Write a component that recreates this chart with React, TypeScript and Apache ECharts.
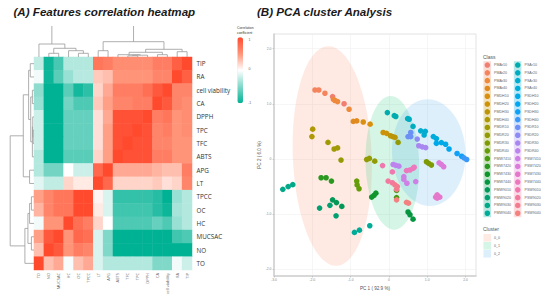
import React, { useEffect, useRef } from "react";
import * as echarts from "echarts";

const columns = ["TO","NO","MUCSAC","HC","OC","TPCC","LT","APG","ABTS","TFC","TPC","DPPH","CA","cell viability","RA","TIP"];
const rows = ["TIP","RA","cell viability","CA","DPPH","TPC","TFC","ABTS","APG","LT","TPCC","OC","HC","MUCSAC","NO","TO"];
const matrix = [
  [-.25,-.95,-.72,-.3,-.3,-.3,.7,.65,.55,.55,.55,.55,.65,.65,.85,1],
  [-.05,-.95,-.65,-.4,-.28,-.28,.25,.3,.5,.5,.5,.5,.6,.6,1,.85],
  [-.45,-1,-1,-.65,-.92,-.82,.2,.4,.65,.65,.65,.75,.9,1,.6,.6],
  [-.4,-1,-1,-.55,-.7,-.7,.25,.45,.6,.6,.65,.65,1,.9,.6,.55],
  [-.2,-1,-1,-.6,-.6,-.6,.15,.4,.95,.95,.95,1,.65,.7,.5,.55],
  [-.2,-1,-1,-.6,-.6,-.6,.15,.45,.95,.95,1,.95,.6,.65,.5,.55],
  [-.2,-1,-1,-.6,-.6,-.6,.15,.45,.95,1,.95,.95,.6,.6,.5,.5],
  [-.3,-1,-1,-.65,-.65,-.65,.2,.45,1,.95,.95,.95,.65,.65,.5,.5],
  [-.3,-.55,-.55,0,-.2,-.2,.8,1,.4,.4,.4,.4,.35,.3,.3,.65],
  [-.12,-.25,-.25,.2,.1,.1,1,.8,.2,.2,.2,.2,.25,.15,.2,.6],
  [.45,.6,.7,.7,1,1,.05,-.15,-.8,-.8,-.8,-.8,-.85,-1,-.4,-.3],
  [.35,.6,.7,.7,1,1,.1,-.15,-.75,-.75,-.75,-.75,-.85,-.95,-.35,-.3],
  [-.05,.5,.5,1,.75,.65,.2,0,-.7,-.7,-.7,-.7,-.6,-.7,-.4,-.3],
  [.45,.9,1,.5,.8,.75,-.15,-.5,-1,-1,-1,-1,-1,-1,-.75,-.7],
  [.3,1,.9,.5,.65,.6,-.15,-.5,-1,-1,-1,-1,-1,-1,-1,-1],
  [1,.3,.4,-.03,.3,.4,-.15,-.3,-.3,-.3,-.3,-.3,-.5,-.5,-.05,-.2],
];

// [position a, height a, position b, height b, merge height]
const treeMerges = [
  [1.5,0,2.5,0,3.7],[4.5,0,5.5,0,3.7],[3.5,0,5,3.7,6.3],[2,3.7,4.25,6.3,8.7],[.5,0,3.125,8.7,13],
  [6.5,0,7.5,0,6.3],[9.5,0,10.5,0,1.2],[10,1.2,11.5,0,1.8],[8.5,0,10.75,1.8,2.3],[12.5,0,13.5,0,2.3],
  [9.63,2.3,13,2.3,4.7],[14.5,0,15.5,0,5.3],[11.31,4.7,15,5.3,7.7],[7,6.3,13.16,7.7,15.3],[1.81,13,10.08,15.3,34],
];

const classesLeft = ["PMAr10","PMAr20","PMAr30","PMAr40","PMDH10","PMDH20","PMDH30","PMDH40","PMDR10","PMDR20","PMDR30","PMDR40","PMW7410","PMW7420","PMW7430","PMW7440","PMW9010","PMW9020","PMW9030","PMW9040"];
const classesRight = ["PSAr10","PSAr20","PSAr30","PSAr40","PSDH10","PSDH20","PSDH30","PSDH40","PSDR10","PSDR20","PSDR30","PSDR40","PSW7410","PSW7420","PSW7430","PSW7440","PSW9010","PSW9020","PSW9030","PSW9040"];
const classColors = [
  "#F07F72","#F4845E","#EE8A3C","#E08A1E","#D9900F","#CC9208","#BB9408","#AE9806","#A09A05","#929B05",
  "#7E9A05","#659C08","#4A9A12","#2A981E","#0E962C","#059640","#039858","#02A070","#02A888","#00AC98",
  "#00ACAE","#00ACC0","#00ACD0","#00ACDC","#00AAE8","#00A6F0","#10A0F5","#3A98F8","#6C90F5","#8E8CF4",
  "#A888F0","#BC84EC","#CE80E4","#DC7CDA","#E678CC","#EC78BE","#F078AE","#F27A9E","#F47C90","#F48080",
];
const classPoints = [
  [[-1.47,1.13],[-1.17,1.0]],
  [[-1.93,1.25],[-1.83,1.25],[-1.67,1.19]],
  [[-1.45,1.08],[-1.41,1.06],[-1.34,1.04],[-1.04,.9]],
  [[-.93,.68],[-.84,.69]],
  [[-.67,.67],[-.49,.63]],
  [[-.15,.48],[-.06,.465]],
  [[.04,.42],[.1,.405],[.16,.39]],
  [[-1.99,.54],[-2.01,.405]],
  [[-1.59,.3],[-1.43,.18],[-1.34,.2]],
  [[-1.25,-.02],[-.58,-.01],[-.51,.01],[-.37,-.04],[.24,.3]],
  [[.98,-.05],[1.04,-.08],[1.11,-.11]],
  [[-.84,-.4],[-.83,-.47],[-.78,-.54]],
  [[.2,-.57],[.2,-.7]],
  [[-1.77,-.34],[-1.64,-.34],[-1.5,-.4]],
  [[-.45,-.69],[-.39,-.66],[-.34,-.62]],
  [[.5,-.96],[.55,-1.01],[.63,-1.09]],
  [[-1.47,-.74],[-1.37,-.79],[-1.23,-.86]],
  [[-1.54,-.84],[-1.81,-.89],[-1.38,-1.03]],
  [[-2.77,-.55],[-2.63,-.5],[-2.51,-.465]],
  [[-.9,-1.33],[-.77,-1.29],[-.5,-1.21]],
  [[-.04,.84],[.14,.785],[.18,.77]],
  [[.49,.73],[.53,.72],[.63,.59]],
  [[.83,.51],[.95,.5],[.92,.435]],
  [[1.16,.405],[1.24,.37]],
  [[1.24,.284],[1.37,.296],[1.48,.266]],
  [[1.57,.18]],
  [[1.78,.1],[1.9,.05]],
  [[1.96,.02],[2.03,-.01]],
  [[.57,.48],[.5,.405],[.57,.405]],
  [[.74,.36]],
  [[.78,.24],[.87,.22],[.96,.205]],
  [[.11,-.1],[.18,-.115],[.26,-.13]],
  [[.39,-.32],[.39,-.37],[.47,-.44],[.7,-.41]],
  [[1.31,-.07],[1.37,-.1],[1.43,-.14]],
  [[1.26,-.65],[1.22,-.69],[1.33,-.69],[1.26,-.71]],
  [[.46,-.21],[.55,-.2],[.63,-.17],[.66,-.15]],
  [[-.165,-.12],[.09,-.235]],
  [[-.02,-.4],[.09,-.43]],
  [[.16,-.47],[.22,-.5],[.2,-.55]],
  [[.2,-.74],[.46,-.785],[.51,-.8]],
];
const clusterNames = ["0_0","0_1","0_2"];
// [centre x, centre y, axis-1 x, axis-1 y, axis-2 x, axis-2 y]
const clusterEllipses = [
  [-1.48,.054,-.1,1.99,1.03,0],
  [.09,-.07,-.045,1.21,.7,0],
  [1.04,.114,-.03,.967,.96,0],
];
const clusterColors = ["rgba(250,130,90,0.17)","rgba(30,200,120,0.19)","rgba(60,160,235,0.17)"];
const xTicks = [-3,-2,-1,0,1,2];
const yTicks = [-2,-1,0,1,2];
const tickText = (v: number) => (v === 0 ? "0" : v.toFixed(1));

const treeRender = (vertical: boolean) => (_p: any, api: any) => {
  const [a, ha, b, hb, h] = [0,1,2,3,4].map((i) => api.value(i));
  const raw = [[a,ha],[a,h],[b,h],[b,hb]];
  const points = raw.map(([pos, height]) => api.coord(vertical ? [pos, height] : [height, pos]));
  return { type: "polyline", shape: { points }, style: { stroke: "#9a9a9a", lineWidth: 0.8, fill: "none" } };
};

const ellipseRender = (p: any, api: any) => {
  const [cx, cy, ux, uy, vx, vy] = [0,1,2,3,4,5].map((i) => api.value(i));
  const points: number[][] = [];
  for (let k = 0; k < 72; k++) {
    const t = (k / 72) * Math.PI * 2;
    points.push(api.coord([cx + ux * Math.cos(t) + vx * Math.sin(t), cy + uy * Math.cos(t) + vy * Math.sin(t)]));
  }
  return { type: "polygon", shape: { points }, style: { fill: clusterColors[p.dataIndex] } };
};

export default function App() {
  const ref = useRef<HTMLDivElement>(null);
  useEffect(() => {
    const chart = echarts.init(ref.current!, undefined, { renderer: "svg" });
    const cells: number[][] = [];
    matrix.forEach((r, y) => r.forEach((v, x) => cells.push([x, y, v])));
    const allClasses = [...classesLeft, ...classesRight];
    const smallGrey = { fontFamily: "Liberation Sans", fill: "#666", fontSize: 3.6 };
    const legendBack: any[] = [];
    classColors.forEach((c, i) => {
      const col = i < 20 ? 0 : 1;
      const row = i % 20;
      legendBack.push({
        type: "rect", z: 0,
        shape: { x: col ? 513.8 : 483.4, y: 61.2 + row * 7.8, width: 7.6, height: 7.8 },
        style: { fill: c, opacity: 0.28 },
      });
    });
    const clusterLegend: any[] = [];
    clusterNames.forEach((n, i) => {
      clusterLegend.push({
        type: "rect", shape: { x: 483.4, y: 234 + i * 8, width: 7.6, height: 7.6 },
        style: { fill: clusterColors[i] },
      });
      clusterLegend.push({ type: "text", x: 494, y: 235.6 + i * 8, style: { ...smallGrey, text: n } });
    });
    const titleStyle = { fontFamily: "Liberation Sans", fontStyle: "italic", fontWeight: "bold", fontSize: 11.6, color: "#1a1a1a" };
    chart.setOption({
      animation: false,
      backgroundColor: "#fff",
      title: [
        { text: "(A) Features correlation heatmap", left: 13.5, top: 5, padding: 0, textStyle: titleStyle },
        { text: "(B) PCA cluster Analysis", left: 257, top: 5, padding: 0, textStyle: titleStyle },
      ],
      grid: [
        { left: 34, top: 57, width: 158, height: 213 },
        { left: 34, top: 26, width: 158, height: 31 },
        { left: 8, top: 57, width: 26, height: 213 },
        { left: 274, top: 34, width: 202, height: 242, show: true, borderColor: "#e2e2e2", borderWidth: 1, backgroundColor: "#fff" },
      ],
      xAxis: [
        { type: "category", gridIndex: 0, data: columns, position: "bottom", axisLine: { show: false }, axisTick: { show: false }, axisLabel: { rotate: 90, interval: 0, margin: 3, fontSize: 4, color: "#666", fontFamily: "Open Sans" } },
        { type: "value", gridIndex: 1, min: 0, max: 16, show: false },
        { type: "value", gridIndex: 2, min: 0, max: 37.14, inverse: true, show: false },
        {
          type: "value", gridIndex: 3, min: -3, max: 2.274, name: "PC 1 ( 92.9 %)", nameLocation: "middle", nameGap: 8.5,
          nameTextStyle: { fontSize: 4.6, color: "#555", fontFamily: "Liberation Sans" },
          axisLine: { show: true, onZero: false, lineStyle: { color: "#cfcfcf", width: 1.5 } },
          axisTick: { show: true, length: 1.5, lineStyle: { color: "#aaa", width: 0.5 }, customValues: xTicks },
          axisLabel: { fontSize: 3.4, color: "#888", margin: 2.5, formatter: tickText, customValues: xTicks, fontFamily: "Liberation Sans" },
          splitLine: { show: true, lineStyle: { color: "#f0f0f0", width: 0.6 } },
        },
      ],
      yAxis: [
        { type: "category", gridIndex: 0, data: rows, inverse: true, position: "right", axisLine: { show: false }, axisTick: { show: false }, axisLabel: { interval: 0, margin: 4.5, fontSize: 6.3, color: "#333", fontFamily: "Open Sans" } },
        { type: "value", gridIndex: 1, min: 0, max: 31, show: false },
        { type: "value", gridIndex: 2, min: 0, max: 16, show: false },
        {
          type: "value", gridIndex: 3, min: -2.12, max: 2.264, name: "PC 2 ( 6.0 %)", nameLocation: "middle", nameGap: 11,
          nameTextStyle: { fontSize: 4.6, color: "#555", fontFamily: "Liberation Sans" },
          axisLine: { show: true, onZero: false, lineStyle: { color: "#cfcfcf", width: 1.5 } },
          axisTick: { show: true, length: 1.5, lineStyle: { color: "#aaa", width: 0.5 }, customValues: yTicks },
          axisLabel: { fontSize: 3.4, color: "#888", margin: 2.5, formatter: tickText, customValues: yTicks, fontFamily: "Liberation Sans" },
          splitLine: { show: true, lineStyle: { color: "#f0f0f0", width: 0.6 } },
        },
      ],
      visualMap: {
        type: "continuous", seriesIndex: 0, min: -1, max: 1, left: 237.4, top: 37.3, itemWidth: 5.6, itemHeight: 66,
        calculable: false, padding: 0, text: ["", ""], textGap: 0, hoverLink: false,
        inRange: { color: ["#00B294", "#80D8C9", "#ffffff", "#FF9479", "#FF4A2E"] },
      },
      legend: [
        { data: classesLeft, orient: "vertical", left: 484.6, top: 62.3, padding: 0, itemWidth: 5.5, itemHeight: 5.5, itemGap: 2.3, icon: "circle", selectedMode: false, textStyle: { fontSize: 3.6, color: "#666", fontFamily: "Liberation Sans", padding: [0, 0, 0, -1] } },
        { data: classesRight, orient: "vertical", left: 515, top: 62.3, padding: 0, itemWidth: 5.5, itemHeight: 5.5, itemGap: 2.3, icon: "circle", selectedMode: false, textStyle: { fontSize: 3.6, color: "#666", fontFamily: "Liberation Sans", padding: [0, 0, 0, -1] } },
      ],
      series: [
        { type: "heatmap", xAxisIndex: 0, yAxisIndex: 0, data: cells, itemStyle: { borderWidth: 0 }, emphasis: { disabled: true } },
        { type: "custom", xAxisIndex: 1, yAxisIndex: 1, data: treeMerges, renderItem: treeRender(true), clip: true, silent: true },
        { type: "custom", xAxisIndex: 2, yAxisIndex: 2, data: treeMerges, renderItem: treeRender(false), clip: true, silent: true },
        { type: "custom", xAxisIndex: 3, yAxisIndex: 3, data: clusterEllipses, renderItem: ellipseRender, silent: true, z: 1 },
        ...allClasses.map((name, i) => ({
          type: "scatter", name, xAxisIndex: 3, yAxisIndex: 3, data: classPoints[i], symbolSize: 5.6, z: 3,
          itemStyle: { color: classColors[i], opacity: 1 },
        })),
      ],
      graphic: [
        ...legendBack,
        ...clusterLegend,
        { type: "text", x: 483, y: 54.5, style: { fontFamily: "Liberation Sans", fill: "#555", fontSize: 5, text: "Class" } },
        { type: "text", x: 483, y: 226.5, style: { fontFamily: "Liberation Sans", fill: "#555", fontSize: 5, text: "Cluster" } },
        { type: "text", x: 237, y: 26.5, style: { fontFamily: "Liberation Sans", fill: "#333", fontSize: 3.4, text: "Correlation" } },
        { type: "text", x: 237, y: 31, style: { fontFamily: "Liberation Sans", fill: "#333", fontSize: 3.4, text: "coefficient" } },
        { type: "text", x: 248.5, y: 37.5, style: { ...smallGrey, text: "1" } },
        { type: "text", x: 248.5, y: 66.5, style: { ...smallGrey, text: "0" } },
        { type: "text", x: 248, y: 100.5, style: { ...smallGrey, text: "-1" } },
      ],
    });
    return () => chart.dispose();
  }, []);
  return <div ref={ref} style={{ position: "absolute", left: 0, top: 0, width: 550, height: 305 }} />;
}
